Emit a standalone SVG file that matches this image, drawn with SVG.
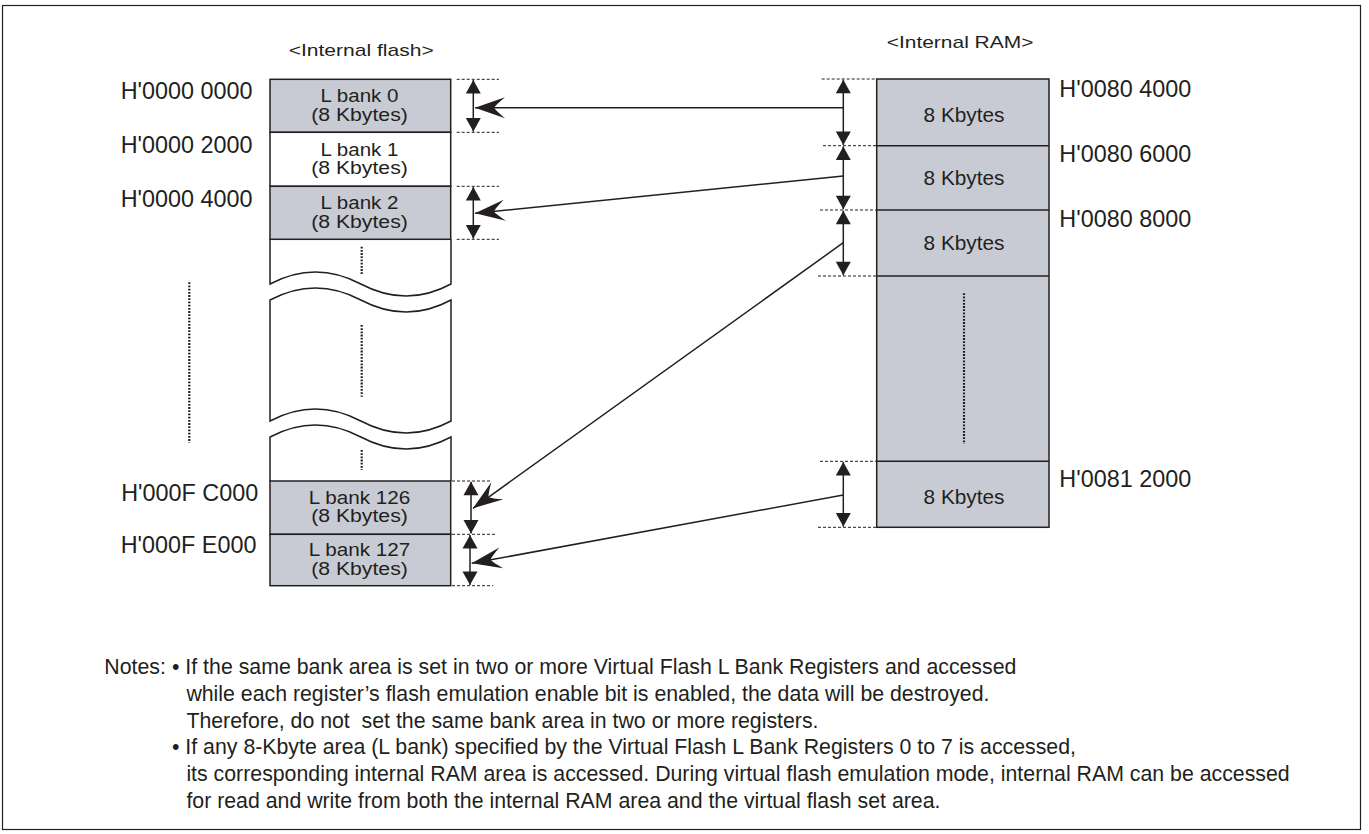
<svg xmlns="http://www.w3.org/2000/svg" width="1369" height="834" viewBox="0 0 1369 834">
<style>
text{font-family:"Liberation Sans",Arial,sans-serif;fill:#231f20}
.t{font-size:17px}
.addr{font-size:23.4px}
.bank{font-size:17.5px;text-anchor:middle}
.ram{font-size:20.8px;text-anchor:middle}
.note{font-size:21.3px}
.box{stroke:#231f20;stroke-width:1.5}
.g{fill:#c8cbd3}
.w{fill:#fff}
.ln{stroke:#231f20;stroke-width:1.5;fill:none}
.dash{stroke:#231f20;stroke-width:1;stroke-dasharray:3 2;fill:none}
.dot{stroke:#231f20;stroke-width:2.2;stroke-dasharray:1.8 1.4;fill:none}
.dim{stroke:#231f20;stroke-width:1.5;fill:none;marker-start:url(#tri);marker-end:url(#tri)}
.arr{stroke:#231f20;stroke-width:1.5;fill:none;marker-end:url(#barb)}
</style>
<defs>
<marker id="tri" markerUnits="userSpaceOnUse" viewBox="-14 -8 15 16" refX="0" refY="0" markerWidth="15" markerHeight="16" orient="auto-start-reverse">
<path d="M0,0 L-13.5,-7.5 L-13.5,7.5 Z" fill="#231f20"/>
</marker>
<marker id="barb" markerUnits="userSpaceOnUse" viewBox="-32 -12 33 24" refX="0" refY="0" markerWidth="33" markerHeight="24" orient="auto">
<path d="M0,0 L-30,-10.5 Q-21,-3 -19,0 Q-21,3 -30,10.5 Z" fill="#231f20"/>
</marker>
</defs>
<rect x="2.5" y="5.5" width="1358" height="824" fill="#fff" stroke="#231f20" stroke-width="1.2"/>

<text class="t" x="288.7" y="55.5" textLength="145" lengthAdjust="spacingAndGlyphs">&lt;Internal flash&gt;</text>
<text class="t" x="886.7" y="48.3" textLength="146.7" lengthAdjust="spacingAndGlyphs">&lt;Internal RAM&gt;</text>

<g id="flash">
<g id="lbank0">
<rect class="box g" x="270" y="79.3" width="180.7" height="53"/>
<text class="bank" x="359.5" y="102.3" textLength="78" lengthAdjust="spacingAndGlyphs">L bank 0</text>
<text class="bank" x="359.5" y="120.5" textLength="96.7" lengthAdjust="spacingAndGlyphs">(8 Kbytes)</text>
</g>
<g id="lbank1">
<rect class="box w" x="270" y="132.3" width="180.7" height="54"/>
<text class="bank" x="359.5" y="155.8" textLength="78" lengthAdjust="spacingAndGlyphs">L bank 1</text>
<text class="bank" x="359.5" y="174" textLength="96.7" lengthAdjust="spacingAndGlyphs">(8 Kbytes)</text>
</g>
<g id="lbank2">
<rect class="box g" x="270" y="186.3" width="180.7" height="53"/>
<text class="bank" x="359.5" y="209.3" textLength="78" lengthAdjust="spacingAndGlyphs">L bank 2</text>
<text class="bank" x="359.5" y="227.5" textLength="96.7" lengthAdjust="spacingAndGlyphs">(8 Kbytes)</text>
</g>
<g id="flash-gap">
<path class="ln" d="M270,239.3 V284 C300.3,268 330.6,268 360.8,284 C391,300 421.3,300 451,284 V239.3"/>
<path class="ln" d="M270,421 V300 C300.3,284 330.6,284 360.8,300 C391,316 421.3,316 451,300 V421 C421.3,437 391,437 360.8,421 C330.6,405 300.3,405 270,421 Z"/>
<path class="ln" d="M270,481 V437 C300.3,421 330.6,421 360.8,437 C391,453 421.3,453 451,437 V481"/>
<line class="dot" x1="361.7" y1="246.7" x2="361.7" y2="274.3"/>
<line class="dot" x1="361.7" y1="325" x2="361.7" y2="396.7"/>
<line class="dot" x1="361.7" y1="450" x2="361.7" y2="470"/>
<line class="dot" x1="189.3" y1="282.3" x2="189.3" y2="442.7"/>
</g>
<g id="lbank126">
<rect class="box g" x="270" y="481" width="180.7" height="53.3"/>
<text class="bank" x="359.5" y="503.8" textLength="101.7" lengthAdjust="spacingAndGlyphs">L bank 126</text>
<text class="bank" x="359.5" y="522" textLength="96.7" lengthAdjust="spacingAndGlyphs">(8 Kbytes)</text>
</g>
<g id="lbank127">
<rect class="box g" x="270" y="534.3" width="180.7" height="51.4"/>
<text class="bank" x="359.5" y="556" textLength="101.7" lengthAdjust="spacingAndGlyphs">L bank 127</text>
<text class="bank" x="359.5" y="574.5" textLength="96.7" lengthAdjust="spacingAndGlyphs">(8 Kbytes)</text>
</g>
</g>

<g id="flash-addresses">
<text class="addr" x="120.7" y="99.3">H'0000 0000</text>
<text class="addr" x="120.7" y="153.3">H'0000 2000</text>
<text class="addr" x="120.7" y="206.7">H'0000 4000</text>
<text class="addr" x="121.2" y="501">H'000F C000</text>
<text class="addr" x="120.7" y="553.3">H'000F E000</text>
</g>

<g id="ram">
<rect class="box g" x="876.7" y="79" width="172.3" height="448.3"/>
<line class="ln" x1="876.7" y1="145.7" x2="1049" y2="145.7"/>
<line class="ln" x1="876.7" y1="210" x2="1049" y2="210"/>
<line class="ln" x1="876.7" y1="276" x2="1049" y2="276"/>
<line class="ln" x1="876.7" y1="461.3" x2="1049" y2="461.3"/>
<g id="ram0"><text class="ram" x="964" y="122.3">8 Kbytes</text></g>
<g id="ram1"><text class="ram" x="964" y="185">8 Kbytes</text></g>
<g id="ram2"><text class="ram" x="964" y="250">8 Kbytes</text></g>
<line class="dot" x1="964" y1="293.3" x2="964" y2="444"/>
<g id="ram3"><text class="ram" x="964" y="504.3">8 Kbytes</text></g>
</g>

<g id="ram-addresses">
<text class="addr" x="1059.3" y="96.7">H'0080 4000</text>
<text class="addr" x="1059.3" y="161.7">H'0080 6000</text>
<text class="addr" x="1059.3" y="226.7">H'0080 8000</text>
<text class="addr" x="1059.3" y="486.7">H'0081 2000</text>
</g>

<g id="connectors">
<line class="dash" x1="456.7" y1="79.3" x2="499" y2="79.3"/>
<line class="dash" x1="456.7" y1="132.3" x2="499" y2="132.3"/>
<line class="dash" x1="456.7" y1="186.3" x2="499" y2="186.3"/>
<line class="dash" x1="456.7" y1="239.3" x2="499" y2="239.3"/>
<line class="dash" x1="452" y1="481" x2="490" y2="481"/>
<line class="dash" x1="452" y1="534.3" x2="495" y2="534.3"/>
<line class="dash" x1="452" y1="585.7" x2="493" y2="585.7"/>
<line class="dash" x1="821.7" y1="79" x2="876" y2="79"/>
<line class="dash" x1="823" y1="145.7" x2="876" y2="145.7"/>
<line class="dash" x1="820" y1="210" x2="876" y2="210"/>
<line class="dash" x1="818" y1="276" x2="876" y2="276"/>
<line class="dash" x1="820" y1="461.3" x2="876" y2="461.3"/>
<line class="dash" x1="818" y1="527.3" x2="876" y2="527.3"/>

<line class="dim" x1="473.3" y1="80" x2="473.3" y2="131.6"/>
<line class="dim" x1="473.3" y1="187" x2="473.3" y2="238.6"/>
<line class="dim" x1="471" y1="481.7" x2="471" y2="533.6"/>
<line class="dim" x1="470" y1="535" x2="470" y2="585"/>
<line class="dim" x1="843.3" y1="79.7" x2="843.3" y2="145"/>
<line class="dim" x1="843.3" y1="146.4" x2="843.3" y2="209.3"/>
<line class="dim" x1="843.3" y1="210.7" x2="843.3" y2="275.3"/>
<line class="dim" x1="843.3" y1="462" x2="843.3" y2="526.6"/>

<line class="arr" x1="843.3" y1="107.7" x2="475" y2="107.7"/>
<line class="arr" x1="843.3" y1="176" x2="475" y2="213.3"/>
<line class="arr" x1="843.3" y1="242.7" x2="473" y2="508.3"/>
<line class="arr" x1="843.3" y1="495" x2="471.7" y2="563.3"/>
</g>

<g id="notes">
<text class="note" x="104.3" y="674">Notes:</text>
<text class="note" x="172" y="674">• If the same bank area is set in two or more Virtual Flash L Bank Registers and accessed</text>
<text class="note" x="186.4" y="700.8">while each register’s flash emulation enable bit is enabled, the data will be destroyed.</text>
<text class="note" x="186.4" y="727.6" xml:space="preserve">Therefore, do not  set the same bank area in two or more registers.</text>
<text class="note" x="172" y="754.4">• If any 8-Kbyte area (L bank) specified by the Virtual Flash L Bank Registers 0 to 7 is accessed,</text>
<text class="note" x="186.4" y="781.2">its corresponding internal RAM area is accessed. During virtual flash emulation mode, internal RAM can be accessed</text>
<text class="note" x="186.4" y="808">for read and write from both the internal RAM area and the virtual flash set area.</text>
</g>
</svg>
